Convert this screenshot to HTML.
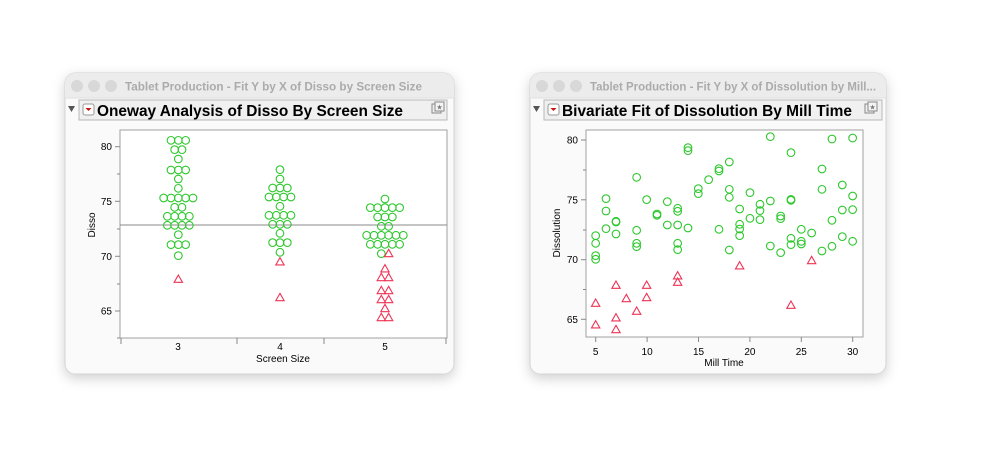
<!DOCTYPE html>
<html><head><meta charset="utf-8"><style>
html,body{margin:0;padding:0;background:#fff;}
svg{display:block;font-family:"Liberation Sans",Arial,sans-serif;}
.c{fill:none;stroke:#2ec82e;stroke-width:3.3;}
.t{fill:none;stroke:#ee3355;stroke-width:3.3;}
</style></head><body>
<svg width="999" height="472" viewBox="0 0 999 472" xmlns="http://www.w3.org/2000/svg">
<defs>
<filter id="sh" x="-10%" y="-10%" width="120%" height="130%"><feDropShadow dx="0" dy="4" stdDeviation="6" flood-color="#000" flood-opacity="0.18"/></filter>
<symbol id="ci" overflow="visible"><circle cx="0" cy="0" r="11.5" class="c"/></symbol>
<symbol id="tr" overflow="visible"><path d="M0,-13 L12.5,9 L-12.5,9 Z" class="t"/></symbol>
</defs>

<!-- LEFT WINDOW -->
<rect x="65" y="73" width="389" height="301" rx="10" fill="#fafafa" stroke="#d4d4d4" filter="url(#sh)"/>
<path d="M65,83 a10,10 0 0 1 10,-10 h369 a10,10 0 0 1 10,10 v15 h-389 z" fill="#ececec"/>
<line x1="65" y1="98" x2="454" y2="98" stroke="#e0e0e0"/>
<circle cx="77" cy="86" r="6" fill="#d8d8d8"/><circle cx="94" cy="86" r="6" fill="#d8d8d8"/><circle cx="111" cy="86" r="6" fill="#d8d8d8"/>
<text x="125" y="90.5" font-size="11.5" font-weight="bold" fill="#ababab" textLength="297" lengthAdjust="spacingAndGlyphs">Tablet Production - Fit Y by X of Disso by Screen Size</text>
<path d="M68,106 h7 l-3.5,6 z" fill="#555"/>
<rect x="79" y="100" width="368" height="20" fill="#f0f0f0" stroke="#b8b8b8"/>
<rect x="83" y="104" width="11" height="11" rx="2" fill="#fff" stroke="#999"/>
<path d="M85.5,108 h6 l-3,3 z" fill="#cc1111"/>
<text x="97" y="116" font-size="15.5" font-weight="bold" fill="#000" textLength="306" lengthAdjust="spacingAndGlyphs">Oneway Analysis of Disso By Screen Size</text>
<rect x="432" y="104" width="9" height="9" fill="#eee" stroke="#888"/><rect x="435" y="102" width="9" height="9" fill="#f4f4f4" stroke="#888"/>
<text x="439.5" y="109.5" font-size="7" text-anchor="middle" fill="#777">★</text>

<rect x="120" y="130" width="327" height="208" fill="#fff" stroke="#a0a0a0"/>
<line x1="120" y1="225" x2="447" y2="225" stroke="#888" stroke-width="1"/>
<g stroke="#888">
<line x1="115" y1="146.7" x2="120" y2="146.7"/><line x1="115" y1="201.3" x2="120" y2="201.3"/><line x1="115" y1="256.3" x2="120" y2="256.3"/><line x1="115" y1="311" x2="120" y2="311"/>
<line x1="117" y1="174" x2="120" y2="174"/><line x1="117" y1="229" x2="120" y2="229"/><line x1="117" y1="284" x2="120" y2="284"/><line x1="117" y1="338" x2="120" y2="338"/>
<line x1="121" y1="338" x2="121" y2="344"/><line x1="237" y1="338" x2="237" y2="344"/><line x1="324" y1="338" x2="324" y2="344"/><line x1="446" y1="338" x2="446" y2="344"/>
</g>
<g font-size="10" fill="#000" text-anchor="end">
<text x="112" y="150">80</text><text x="112" y="205">75</text><text x="112" y="260">70</text><text x="112" y="314.5">65</text>
</g>
<g font-size="10" fill="#000" text-anchor="middle">
<text x="178" y="350">3</text><text x="280" y="350">4</text><text x="385" y="350">5</text>
<text x="283" y="362">Screen Size</text>
<text transform="translate(95,225) rotate(-90)">Disso</text>
</g>
<g transform="translate(65,70) scale(0.3333)">
<use href="#ci" x="318" y="211"/><use href="#ci" x="340" y="211"/><use href="#ci" x="362" y="211"/>
<use href="#ci" x="329" y="239"/><use href="#ci" x="351" y="239"/>
<use href="#ci" x="340" y="267"/>
<use href="#ci" x="318" y="300"/><use href="#ci" x="340" y="300"/><use href="#ci" x="362" y="300"/>
<use href="#ci" x="340" y="327"/><use href="#ci" x="340" y="355"/>
<use href="#ci" x="296" y="384"/><use href="#ci" x="318" y="384"/><use href="#ci" x="340" y="384"/><use href="#ci" x="362" y="384"/><use href="#ci" x="384" y="384"/>
<use href="#ci" x="329" y="412"/><use href="#ci" x="351" y="412"/>
<use href="#ci" x="307" y="439"/><use href="#ci" x="329" y="439"/><use href="#ci" x="351" y="439"/><use href="#ci" x="373" y="439"/>
<use href="#ci" x="307" y="466"/><use href="#ci" x="329" y="466"/><use href="#ci" x="351" y="466"/><use href="#ci" x="373" y="466"/>
<use href="#ci" x="340" y="494"/>
<use href="#ci" x="318" y="524"/><use href="#ci" x="340" y="524"/><use href="#ci" x="362" y="524"/>
<use href="#ci" x="340" y="557"/>
<use href="#tr" x="340" y="628"/>

<use href="#ci" x="645" y="299"/><use href="#ci" x="645" y="327"/>
<use href="#ci" x="623" y="354"/><use href="#ci" x="645" y="354"/><use href="#ci" x="667" y="354"/>
<use href="#ci" x="612" y="381"/><use href="#ci" x="634" y="381"/><use href="#ci" x="656" y="381"/><use href="#ci" x="678" y="381"/>
<use href="#ci" x="645" y="409"/>
<use href="#ci" x="612" y="436"/><use href="#ci" x="634" y="436"/><use href="#ci" x="656" y="436"/><use href="#ci" x="678" y="436"/>
<use href="#ci" x="623" y="463"/><use href="#ci" x="645" y="463"/><use href="#ci" x="667" y="463"/>
<use href="#ci" x="645" y="490"/>
<use href="#ci" x="623" y="518"/><use href="#ci" x="645" y="518"/><use href="#ci" x="667" y="518"/>
<use href="#ci" x="645" y="547"/>
<use href="#tr" x="645" y="576"/><use href="#tr" x="645" y="683"/>

<use href="#ci" x="960" y="387"/>
<use href="#ci" x="916" y="413"/><use href="#ci" x="938" y="413"/><use href="#ci" x="960" y="413"/><use href="#ci" x="982" y="413"/><use href="#ci" x="1004" y="413"/>
<use href="#ci" x="938" y="441"/><use href="#ci" x="960" y="441"/><use href="#ci" x="982" y="441"/>
<use href="#ci" x="949" y="469"/><use href="#ci" x="971" y="469"/>
<use href="#ci" x="905" y="496"/><use href="#ci" x="927" y="496"/><use href="#ci" x="949" y="496"/><use href="#ci" x="971" y="496"/><use href="#ci" x="993" y="496"/><use href="#ci" x="1015" y="496"/>
<use href="#ci" x="916" y="523"/><use href="#ci" x="938" y="523"/><use href="#ci" x="960" y="523"/><use href="#ci" x="982" y="523"/><use href="#ci" x="1004" y="523"/>
<use href="#ci" x="949" y="551"/><use href="#tr" x="971" y="551"/>
<use href="#tr" x="960" y="597"/>
<use href="#tr" x="949" y="623"/><use href="#tr" x="971" y="623"/>
<use href="#tr" x="949" y="662"/><use href="#tr" x="971" y="662"/>
<use href="#tr" x="949" y="689"/><use href="#tr" x="971" y="689"/>
<use href="#tr" x="960" y="716"/>
<use href="#tr" x="949" y="743"/><use href="#tr" x="971" y="743"/>
</g>

<!-- RIGHT WINDOW -->
<rect x="530" y="73" width="356" height="301" rx="10" fill="#fafafa" stroke="#d4d4d4" filter="url(#sh)"/>
<path d="M530,83 a10,10 0 0 1 10,-10 h336 a10,10 0 0 1 10,10 v15 h-356 z" fill="#ececec"/>
<line x1="530" y1="98" x2="886" y2="98" stroke="#e0e0e0"/>
<circle cx="542" cy="86" r="6" fill="#d8d8d8"/><circle cx="559" cy="86" r="6" fill="#d8d8d8"/><circle cx="576" cy="86" r="6" fill="#d8d8d8"/>
<text x="590" y="90.5" font-size="11.5" font-weight="bold" fill="#ababab" textLength="286" lengthAdjust="spacingAndGlyphs">Tablet Production - Fit Y by X of Dissolution by Mill...</text>
<path d="M533,106 h7 l-3.5,6 z" fill="#555"/>
<rect x="544" y="100" width="338" height="20" fill="#f0f0f0" stroke="#b8b8b8"/>
<rect x="548" y="104" width="11" height="11" rx="2" fill="#fff" stroke="#999"/>
<path d="M550.5,108 h6 l-3,3 z" fill="#cc1111"/>
<text x="562" y="116" font-size="15.5" font-weight="bold" fill="#000" textLength="290" lengthAdjust="spacingAndGlyphs">Bivariate Fit of Dissolution By Mill Time</text>
<rect x="865" y="104" width="9" height="9" fill="#eee" stroke="#888"/><rect x="868" y="102" width="9" height="9" fill="#f4f4f4" stroke="#888"/>
<text x="872.5" y="109.5" font-size="7" text-anchor="middle" fill="#777">★</text>

<rect x="586" y="130" width="277" height="207" fill="#fff" stroke="#a0a0a0"/>
<g stroke="#888">
<line x1="581" y1="140" x2="586" y2="140"/><line x1="581" y1="199.8" x2="586" y2="199.8"/><line x1="581" y1="259.7" x2="586" y2="259.7"/><line x1="581" y1="319.3" x2="586" y2="319.3"/>
<line x1="583" y1="170" x2="586" y2="170"/><line x1="583" y1="230" x2="586" y2="230"/><line x1="583" y1="289.5" x2="586" y2="289.5"/>
<line x1="595.7" y1="337" x2="595.7" y2="342"/><line x1="647.1" y1="337" x2="647.1" y2="342"/><line x1="698.5" y1="337" x2="698.5" y2="342"/><line x1="749.9" y1="337" x2="749.9" y2="342"/><line x1="801.3" y1="337" x2="801.3" y2="342"/><line x1="852.7" y1="337" x2="852.7" y2="342"/>
</g>
<g font-size="10" fill="#000" text-anchor="end">
<text x="578" y="143.5">80</text><text x="578" y="203.3">75</text><text x="578" y="263.2">70</text><text x="578" y="322.8">65</text>
</g>
<g font-size="10" fill="#000" text-anchor="middle">
<text x="595.7" y="355">5</text><text x="647.1" y="355">10</text><text x="698.5" y="355">15</text><text x="749.9" y="355">20</text><text x="801.3" y="355">25</text><text x="852.7" y="355">30</text>
<text x="724" y="366">Mill Time</text>
<text transform="translate(560,233) rotate(-90)">Dissolution</text>
</g>
<g transform="translate(530,70) scale(0.3333)">
<use href="#ci" x="197" y="497"/><use href="#ci" x="197" y="520"/><use href="#ci" x="197" y="557"/><use href="#ci" x="197" y="568"/>
<use href="#ci" x="228" y="386"/><use href="#ci" x="228" y="423"/><use href="#ci" x="228" y="476"/>
<use href="#ci" x="258" y="454"/><use href="#ci" x="258" y="456"/><use href="#ci" x="258" y="492"/>
<use href="#ci" x="320" y="322"/><use href="#ci" x="320" y="481"/><use href="#ci" x="320" y="520"/><use href="#ci" x="320" y="530"/>
<use href="#ci" x="350" y="389"/><use href="#ci" x="381" y="432"/><use href="#ci" x="381" y="436"/>
<use href="#ci" x="412" y="395"/><use href="#ci" x="412" y="465"/>
<use href="#ci" x="443" y="415"/><use href="#ci" x="443" y="424"/><use href="#ci" x="443" y="465"/><use href="#ci" x="443" y="520"/><use href="#ci" x="443" y="539"/>
<use href="#ci" x="474" y="233"/><use href="#ci" x="474" y="242"/><use href="#ci" x="474" y="474"/>
<use href="#ci" x="505" y="356"/><use href="#ci" x="505" y="371"/><use href="#ci" x="536" y="329"/>
<use href="#ci" x="567" y="296"/><use href="#ci" x="567" y="303"/><use href="#ci" x="567" y="478"/>
<use href="#ci" x="598" y="276"/><use href="#ci" x="598" y="358"/><use href="#ci" x="598" y="382"/><use href="#ci" x="598" y="540"/>
<use href="#ci" x="629" y="417"/><use href="#ci" x="629" y="463"/><use href="#ci" x="629" y="477"/><use href="#ci" x="629" y="497"/>
<use href="#ci" x="660" y="368"/><use href="#ci" x="660" y="445"/>
<use href="#ci" x="690" y="403"/><use href="#ci" x="690" y="422"/><use href="#ci" x="690" y="449"/>
<use href="#ci" x="721" y="200"/><use href="#ci" x="721" y="393"/><use href="#ci" x="721" y="528"/>
<use href="#ci" x="752" y="438"/><use href="#ci" x="752" y="446"/><use href="#ci" x="752" y="548"/>
<use href="#ci" x="783" y="248"/><use href="#ci" x="783" y="388"/><use href="#ci" x="783" y="391"/><use href="#ci" x="783" y="505"/><use href="#ci" x="783" y="524"/>
<use href="#ci" x="814" y="478"/><use href="#ci" x="814" y="514"/><use href="#ci" x="814" y="522"/>
<use href="#ci" x="845" y="489"/>
<use href="#ci" x="876" y="297"/><use href="#ci" x="876" y="358"/><use href="#ci" x="876" y="543"/>
<use href="#ci" x="906" y="207"/><use href="#ci" x="906" y="451"/><use href="#ci" x="906" y="529"/>
<use href="#ci" x="937" y="345"/><use href="#ci" x="937" y="420"/><use href="#ci" x="937" y="500"/>
<use href="#ci" x="968" y="204"/><use href="#ci" x="968" y="378"/><use href="#ci" x="968" y="419"/><use href="#ci" x="968" y="514"/>
<use href="#tr" x="197" y="700"/><use href="#tr" x="197" y="765"/>
<use href="#tr" x="258" y="646"/><use href="#tr" x="258" y="744"/><use href="#tr" x="258" y="779"/>
<use href="#tr" x="289" y="686"/><use href="#tr" x="320" y="724"/>
<use href="#tr" x="350" y="646"/><use href="#tr" x="350" y="683"/>
<use href="#tr" x="443" y="618"/><use href="#tr" x="443" y="637"/>
<use href="#tr" x="629" y="588"/><use href="#tr" x="783" y="706"/><use href="#tr" x="845" y="572"/>
</g>
</svg>
</body></html>
